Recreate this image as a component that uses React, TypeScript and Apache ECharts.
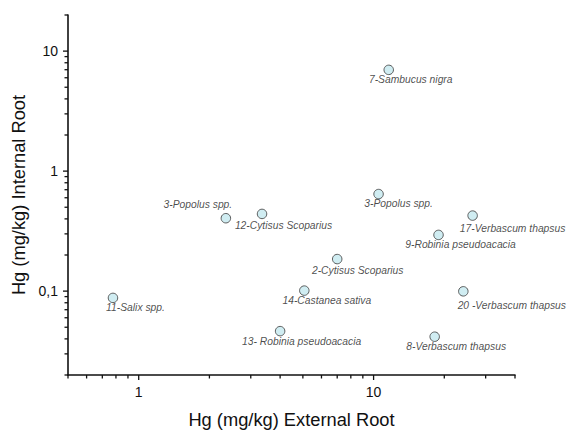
import React, { useEffect, useRef } from "react";
import * as echarts from "echarts";

// ---- data ----
const speciesNames = [
  "7-Sambucus nigra",
  "3-Popolus spp.",
  "17-Verbascum thapsus",
  "9-Robinia pseudoacacia",
  "2-Cytisus Scoparius",
  "14-Castanea sativa",
  "13- Robinia pseudoacacia",
  "3-Popolus spp.",
  "12-Cytisus Scoparius",
  "11-Salix spp.",
  "20 -Verbascum thapsus",
  "8-Verbascum thapsus",
];
const externalRoot = [11.6, 10.5, 26.4, 18.9, 7.0, 5.07, 4.0, 2.35, 3.35, 0.777, 24.1, 18.2];
const internalRoot = [6.98, 0.644, 0.426, 0.294, 0.185, 0.101, 0.0464, 0.405, 0.44, 0.0878, 0.0996, 0.0417];

// label placement (text centre relative to marker centre, px) — layout only
const labelOffsets: number[][] = [
  [22, 10],
  [20, 9],
  [40, 12.5],
  [22, 9.5],
  [20.5, 11.5],
  [22.5, 10],
  [21.5, 10.5],
  [-28, -13.5],
  [21.5, 12],
  [22.5, 9.5],
  [48.5, 14],
  [21.5, 10],
];

// axes
const xMin = 0.5;
const xMax = 40;
const yMin = 0.02;
const yMax = 20;
const xMajorTicks = [1, 10];
const xMinorTicks = [0.5, 0.6, 0.7, 0.8, 0.9, 2, 3, 4, 5, 6, 7, 8, 9, 20, 30, 40];
const yMajorTicks = [0.1, 1, 10];
const yMinorTicks = [
  0.02, 0.03, 0.04, 0.05, 0.06, 0.07, 0.08, 0.09,
  0.2, 0.3, 0.4, 0.5, 0.6, 0.7, 0.8, 0.9,
  2, 3, 4, 5, 6, 7, 8, 9, 20,
];

const FONT = "Arial, 'Liberation Sans', sans-serif";

function isPow10(v: number) {
  const l = Math.log10(v);
  return Math.abs(l - Math.round(l)) < 1e-6;
}
function fmt(v: number) {
  if (!isPow10(v)) return "";
  return String(Number(v.toPrecision(6))).replace(".", ",");
}

export default function App() {
  const ref = useRef<HTMLDivElement>(null);
  useEffect(() => {
    if (!ref.current) return;
    const chart = echarts.init(ref.current, undefined, { renderer: "svg" });

    const xTickData = [
      ...xMajorTicks.map((v) => [v, yMin, 1]),
      ...xMinorTicks.map((v) => [v, yMin, 0]),
    ];
    const yTickData = [
      ...yMajorTicks.map((v) => [xMin, v, 1]),
      ...yMinorTicks.map((v) => [xMin, v, 0]),
    ];
    const tickStyle = { stroke: "#111", lineWidth: 1.3 };

    chart.setOption({
      animation: false,
      backgroundColor: "#fff",
      grid: { left: 68, right: 51, top: 15, bottom: 55, containLabel: false },
      xAxis: {
        type: "log",
        logBase: 10,
        min: xMin,
        max: xMax,
        name: "Hg (mg/kg) External Root",
        nameLocation: "middle",
        nameGap: 35,
        nameTextStyle: { fontFamily: FONT, fontSize: 18.3, color: "#111" },
        axisLine: { show: true, lineStyle: { color: "#111", width: 1.6 } },
        axisTick: { show: false },
        splitLine: { show: false },
        axisLabel: {
          margin: 10,
          fontFamily: FONT,
          fontSize: 14,
          color: "#111",
          formatter: (v: number) => fmt(v),
        },
      },
      yAxis: {
        type: "log",
        logBase: 10,
        min: yMin,
        max: yMax,
        name: "Hg (mg/kg) Internal Root",
        nameLocation: "middle",
        nameGap: 37,
        nameTextStyle: { fontFamily: FONT, fontSize: 18.3, color: "#111" },
        axisLine: { show: true, lineStyle: { color: "#111", width: 1.6 } },
        axisTick: { show: false },
        splitLine: { show: false },
        axisLabel: {
          margin: 10,
          fontFamily: FONT,
          fontSize: 14,
          color: "#111",
          formatter: (v: number) => fmt(v),
        },
      },
      series: [
        {
          type: "custom",
          silent: true,
          clip: false,
          data: xTickData,
          renderItem: (params: any, api: any) => {
            const p = api.coord([api.value(0), api.value(1)]);
            const len = api.value(2) ? 5 : 3.5;
            return {
              type: "line",
              shape: { x1: p[0], y1: p[1], x2: p[0], y2: p[1] + len },
              style: tickStyle,
            };
          },
        },
        {
          type: "custom",
          silent: true,
          clip: false,
          data: yTickData,
          renderItem: (params: any, api: any) => {
            const p = api.coord([api.value(0), api.value(1)]);
            const len = api.value(2) ? 5 : 3.5;
            return {
              type: "line",
              shape: { x1: p[0] - len, y1: p[1], x2: p[0], y2: p[1] },
              style: tickStyle,
            };
          },
        },
        {
          type: "scatter",
          symbol: "circle",
          symbolSize: 9.5,
          itemStyle: { color: "#c4e8ef", borderColor: "#3a3a3a", borderWidth: 1 },
          label: {
            show: true,
            position: "inside",
            formatter: (p: any) => p.name,
            fontFamily: FONT,
            fontStyle: "italic",
            fontSize: 10.3,
            color: "#1c1c1c",
            textBorderWidth: 0,
          },
          data: speciesNames.map((n, i) => ({
            name: n,
            value: [externalRoot[i], internalRoot[i]],
            label: { offset: labelOffsets[i] },
          })),
        },
      ],
    });
    return () => chart.dispose();
  }, []);

  return (
    <div
      ref={ref}
      style={{ position: "fixed", left: 0, top: 0, width: 566, height: 433, background: "#fff" }}
    />
  );
}
